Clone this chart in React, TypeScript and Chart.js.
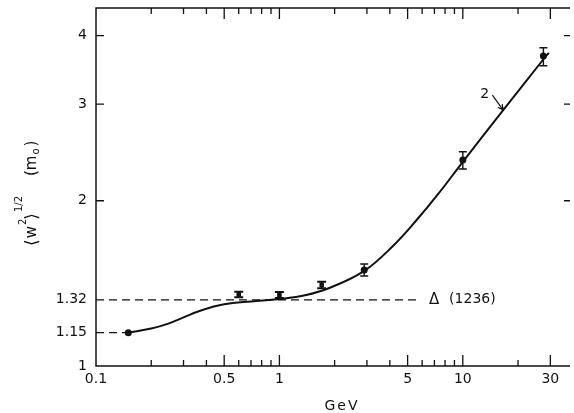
import React, { useEffect, useRef } from "react";
import { Chart, registerables } from "chart.js";

Chart.register(...registerables);

// ---- data ----
const curveX = [0.15, 0.2, 0.25, 0.3, 0.36, 0.43, 0.5, 0.7, 1.0, 1.4, 1.9, 2.9, 4.2, 5.6, 7.4, 10, 16.6, 27.3, 29.4];
const curveY = [1.15, 1.17, 1.196, 1.226, 1.257, 1.281, 1.296, 1.311, 1.324, 1.347, 1.39, 1.49, 1.66, 1.845, 2.065, 2.355, 2.925, 3.61, 3.72];

const pointX = [0.15, 0.6, 1.0, 1.7, 2.9, 10, 27.5];
const pointY = [1.15, 1.349, 1.347, 1.405, 1.496, 2.372, 3.67];
const pointErrLow = [1.15, 1.334, 1.33, 1.385, 1.459, 2.285, 3.524];
const pointErrHigh = [1.15, 1.366, 1.364, 1.424, 1.534, 2.456, 3.8];

const deltaLineX = [0.1, 5.86];
const deltaLineY = [1.32, 1.32];
const baseLineX = [0.1, 0.15];
const baseLineY = [1.15, 1.15];

const xTickValues = [0.1, 0.5, 1, 5, 10, 30];
const xTickLabels = ["0.1", "0.5", "1", "5", "10", "30"];
const xMajorMarks = [0.5, 1, 5, 10, 30];
const xMinorMarks = [0.2, 0.3, 0.4, 0.6, 0.7, 0.8, 0.9, 2, 3, 4, 6, 7, 8, 9, 20];
const yTickValues = [1, 1.15, 1.32, 2, 3, 4];
const yTickLabels = ["1", "1.15", "1.32", "2", "3", "4"];
const yFrameMarks = [2, 3, 4];

const deltaLabel = { x: 6.55, y: 1.32, sym: "Δ", text: "(1236)" };
const curveLabel = { x: 13.15, y: 3.13, text: "2" };
const curveArrow = { x0: 14.5, y0: 3.116, x1: 16.6, y1: 2.926 };

const INK = "#111";
const FONT = "DejaVu Sans";

const overlayPlugin = {
  id: "overlay",
  afterDatasetsDraw(chart: any) {
    const ctx = chart.ctx;
    const xs = chart.scales.x;
    const ys = chart.scales.y;
    ctx.save();
    ctx.strokeStyle = INK;
    for (let i = 0; i < pointX.length; i++) {
      if (pointErrHigh[i] === pointErrLow[i]) continue;
      const px = xs.getPixelForValue(pointX[i]);
      const pl = ys.getPixelForValue(pointErrLow[i]);
      const ph = ys.getPixelForValue(pointErrHigh[i]);
      const small = Math.abs(pl - ph) < 10;
      ctx.lineWidth = small ? 2 : 1.4;
      const cap = small ? 4.5 : 4;
      ctx.beginPath();
      ctx.moveTo(px, pl);
      ctx.lineTo(px, ph);
      ctx.moveTo(px - cap, pl);
      ctx.lineTo(px + cap, pl);
      ctx.moveTo(px - cap, ph);
      ctx.lineTo(px + cap, ph);
      ctx.stroke();
    }
    ctx.restore();
  },
  afterDraw(chart: any) {
    const ctx = chart.ctx;
    const xs = chart.scales.x;
    const ys = chart.scales.y;
    const { left, right, top, bottom } = chart.chartArea;
    ctx.save();
    ctx.strokeStyle = INK;
    ctx.fillStyle = INK;
    ctx.lineWidth = 1.5;
    // frame: left, top, bottom (no right line)
    ctx.beginPath();
    ctx.moveTo(right, top);
    ctx.lineTo(left, top);
    ctx.lineTo(left, bottom);
    ctx.lineTo(right, bottom);
    ctx.stroke();

    // inward tick marks
    ctx.lineWidth = 1.3;
    ctx.beginPath();
    const xMark = (v: number, len: number) => {
      const px = xs.getPixelForValue(v);
      ctx.moveTo(px, bottom);
      ctx.lineTo(px, bottom - len);
      ctx.moveTo(px, top);
      ctx.lineTo(px, top + len);
    };
    xMajorMarks.forEach((v) => xMark(v, 11));
    xMinorMarks.forEach((v) => xMark(v, 6));
    yFrameMarks.forEach((v) => {
      const py = ys.getPixelForValue(v);
      ctx.moveTo(left, py);
      ctx.lineTo(left + 8, py);
      ctx.moveTo(right, py);
      ctx.lineTo(right - 6, py);
    });
    ctx.stroke();

    // curve label with arrow
    ctx.font = `14px ${FONT}`;
    ctx.textAlign = "center";
    ctx.textBaseline = "middle";
    ctx.fillText(curveLabel.text, xs.getPixelForValue(curveLabel.x), ys.getPixelForValue(curveLabel.y));
    const ax0 = xs.getPixelForValue(curveArrow.x0);
    const ay0 = ys.getPixelForValue(curveArrow.y0);
    const ax1 = xs.getPixelForValue(curveArrow.x1);
    const ay1 = ys.getPixelForValue(curveArrow.y1);
    ctx.lineWidth = 1.2;
    ctx.beginPath();
    ctx.moveTo(ax0, ay0);
    ctx.lineTo(ax1, ay1);
    const ang = Math.atan2(ay1 - ay0, ax1 - ax0);
    const hl = 6;
    ctx.moveTo(ax1, ay1);
    ctx.lineTo(ax1 - hl * Math.cos(ang - 0.45), ay1 - hl * Math.sin(ang - 0.45));
    ctx.moveTo(ax1, ay1);
    ctx.lineTo(ax1 - hl * Math.cos(ang + 0.45), ay1 - hl * Math.sin(ang + 0.45));
    ctx.stroke();

    // delta label
    ctx.textAlign = "left";
    ctx.font = `15px ${FONT}`;
    const dx = xs.getPixelForValue(deltaLabel.x);
    const dy = ys.getPixelForValue(deltaLabel.y);
    ctx.fillText(deltaLabel.sym, dx, dy);
    ctx.font = `14px ${FONT}`;
    ctx.fillText(deltaLabel.text, dx + 20, dy);

    // x axis title
    ctx.textAlign = "center";
    ctx.font = `14px ${FONT}`;
    (ctx as any).letterSpacing = "2px";
    ctx.fillText("GeV", 342, 406);
    (ctx as any).letterSpacing = "0px";

    // y axis title (rotated)
    ctx.translate(36, 246);
    ctx.rotate(-Math.PI / 2);
    ctx.textAlign = "left";
    ctx.textBaseline = "alphabetic";
    let cx = 0;
    const main = `15px ${FONT}`;
    const bracket = `17px ${FONT}`;
    const small = `10px ${FONT}`;
    ctx.font = bracket;
    ctx.fillText("⟨", cx, 1);
    cx += ctx.measureText("⟨").width + 1;
    ctx.font = main;
    ctx.fillText("w", cx, 0);
    cx += ctx.measureText("w").width + 1;
    ctx.font = small;
    ctx.fillText("2", cx, -10);
    cx += ctx.measureText("2").width - 1;
    ctx.font = bracket;
    ctx.fillText("⟩", cx, 1);
    cx += ctx.measureText("⟩").width + 1;
    ctx.font = small;
    ctx.fillText("1/2", cx, -14);
    cx += ctx.measureText("1/2").width + 20;
    ctx.font = main;
    ctx.fillText("(m", cx, 0);
    cx += ctx.measureText("(m").width + 1;
    ctx.font = small;
    ctx.fillText("o", cx, 3);
    cx += ctx.measureText("o").width + 2;
    ctx.font = main;
    ctx.fillText(")", cx, 0);

    ctx.restore();
  },
};

export default function App() {
  const ref = useRef<HTMLCanvasElement | null>(null);

  useEffect(() => {
    document.body.style.margin = "0";
    const canvas = ref.current;
    if (!canvas) return;

    const curve = curveX.map((x, i) => ({ x, y: curveY[i] }));
    const points = pointX.map((x, i) => ({ x, y: pointY[i] }));
    const deltaLine = deltaLineX.map((x, i) => ({ x, y: deltaLineY[i] }));
    const baseLine = baseLineX.map((x, i) => ({ x, y: baseLineY[i] }));

    const chart = new Chart(canvas, {
      type: "scatter",
      data: {
        datasets: [
          {
            type: "line",
            data: deltaLine,
            borderColor: INK,
            borderWidth: 1.3,
            borderDash: [8, 5],
            pointRadius: 0,
            fill: false,
          },
          {
            type: "line",
            data: baseLine,
            borderColor: INK,
            borderWidth: 1.3,
            borderDash: [8, 5],
            pointRadius: 0,
            fill: false,
          },
          {
            type: "line",
            data: curve,
            borderColor: INK,
            borderWidth: 2,
            pointRadius: 0,
            tension: 0.4,
            fill: false,
          },
          {
            type: "scatter",
            data: points,
            backgroundColor: INK,
            borderColor: INK,
            pointRadius: [3.5, 3.2, 3.2, 3.2, 3.5, 3.5, 3.5],
            pointStyle: ["circle", "rect", "rect", "rect", "circle", "circle", "circle"],
            borderWidth: 0,
          },
        ],
      },
      options: {
        responsive: false,
        animation: false,
        layout: { padding: { top: 8, right: 0, left: 0, bottom: 0 } },
        plugins: {
          legend: { display: false },
          tooltip: { enabled: false },
        },
        scales: {
          x: {
            type: "logarithmic",
            min: 0.1,
            max: 38.4,
            bounds: "data",
            grid: { display: false, drawTicks: false },
            border: { display: false },
            afterBuildTicks: (scale: any) => {
              scale.ticks = xTickValues.map((value) => ({ value }));
            },
            afterFit: (scale: any) => {
              scale.height = 47;
              scale.paddingLeft = 0;
              scale.paddingRight = 0;
            },
            ticks: {
              autoSkip: false,
              maxRotation: 0,
              padding: 5,
              color: INK,
              font: { family: FONT, size: 14 },
              callback: (value: any) => {
                const i = xTickValues.indexOf(Number(value));
                return i >= 0 ? xTickLabels[i] : "";
              },
            },
          },
          y: {
            type: "logarithmic",
            min: 1,
            max: 4.49,
            bounds: "data",
            grid: { display: false, drawTicks: false },
            border: { display: false },
            afterBuildTicks: (scale: any) => {
              scale.ticks = yTickValues.map((value) => ({ value }));
            },
            afterFit: (scale: any) => {
              scale.width = 96;
              scale.paddingTop = 0;
              scale.paddingBottom = 0;
            },
            ticks: {
              autoSkip: false,
              padding: 9,
              color: INK,
              font: { family: FONT, size: 14 },
              callback: (value: any) => {
                const i = yTickValues.indexOf(Number(value));
                return i >= 0 ? yTickLabels[i] : "";
              },
            },
          },
        },
      },
      plugins: [overlayPlugin],
    } as any);

    return () => chart.destroy();
  }, []);

  return (
    <div style={{ width: 574, height: 413 }}>
      <canvas ref={ref} width={574} height={413} style={{ display: "block", width: 574, height: 413 }} />
    </div>
  );
}
